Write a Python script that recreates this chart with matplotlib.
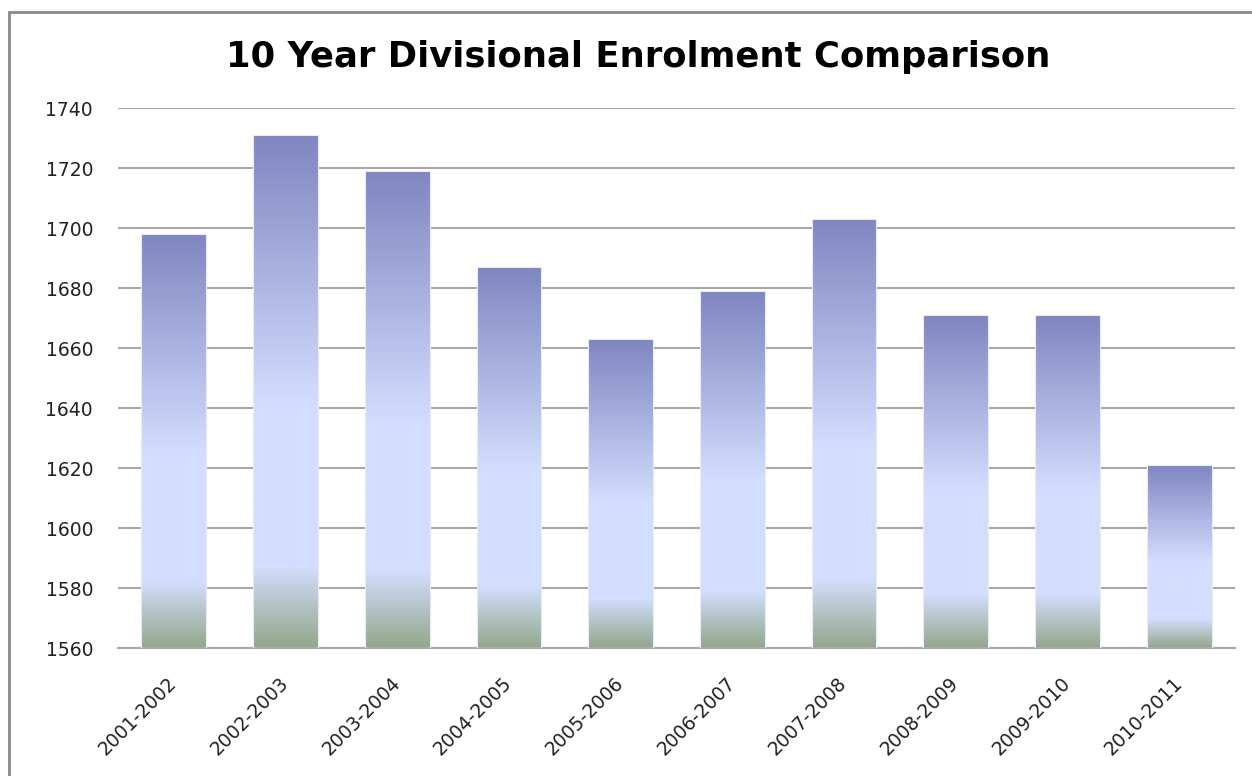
import numpy as np
import matplotlib
matplotlib.use("Agg")
import matplotlib.pyplot as plt
from matplotlib.colors import LinearSegmentedColormap
from matplotlib.patches import Rectangle

years = ["2001-2002", "2002-2003", "2003-2004", "2004-2005", "2005-2006",
         "2006-2007", "2007-2008", "2008-2009", "2009-2010", "2010-2011"]
enrolment = [1698, 1731, 1719, 1687, 1663, 1679, 1703, 1671, 1671, 1621]
y_ticks = [1560, 1580, 1600, 1620, 1640, 1660, 1680, 1700, 1720, 1740]

plt.rcParams['font.family'] = ['DejaVu Sans']

W, H = 1252, 776
fig = plt.figure(figsize=(W / 100, H / 100), dpi=100)
ax = fig.add_axes([118 / W, 1 - 648 / H, (1235 - 118) / W, (648 - 108) / H])

# gradient like the office fill: dark blue top, pale middle, grey-green base
grad = LinearSegmentedColormap.from_list("fill", [
    (0.0, "#93a78b"), (0.16, "#d3defe"), (0.47, "#d3defe"), (1.0, "#7f86c1")])
g = np.linspace(0, 1, 256).reshape(-1, 1)

bw = 0.58
x = np.arange(len(years))
for xi, v in zip(x, enrolment):
    ax.imshow(g, cmap=grad, origin="lower", aspect="auto",
              extent=[xi - bw / 2, xi + bw / 2, y_ticks[0], v], zorder=2)
    ax.add_patch(Rectangle((xi - bw / 2, y_ticks[0]), bw, v - y_ticks[0],
                           fill=False, edgecolor="#e8ecf8", lw=0.8, zorder=3))

ax.set_xlim(-0.5, len(years) - 0.5)
ax.set_ylim(y_ticks[0], y_ticks[-1])
ax.set_yticks(y_ticks)
ax.set_xticks(x)
ax.set_xticklabels(years, rotation=45, ha="right", va="center",
                   rotation_mode="anchor")
ax.tick_params(axis="both", length=0, labelsize=13.5, colors="#222222")
ax.tick_params(axis="y", pad=18)
ax.tick_params(axis="x", pad=23)

ax.grid(axis="y", color="#a8a8a8", lw=1.5, zorder=0)
ax.set_axisbelow(True)
for s in ["top", "right", "left"]:
    ax.spines[s].set_visible(False)
ax.spines["bottom"].set_color("#a8a8a8")
ax.spines["bottom"].set_linewidth(1.5)

fig.text(638 / W, 1 - 57 / H, "10 Year Divisional Enrolment Comparison",
         ha="center", va="center", fontsize=25.5, fontweight="bold", color="black")

# outer chart border (cut off at right and bottom)
fig.patches.append(Rectangle((9 / W, -0.1), 1.2, 1 - 12 / H + 0.1,
                             transform=fig.transFigure, fill=False,
                             edgecolor="#8a8a8a", lw=2))

fig.savefig("out.png", dpi=100)
